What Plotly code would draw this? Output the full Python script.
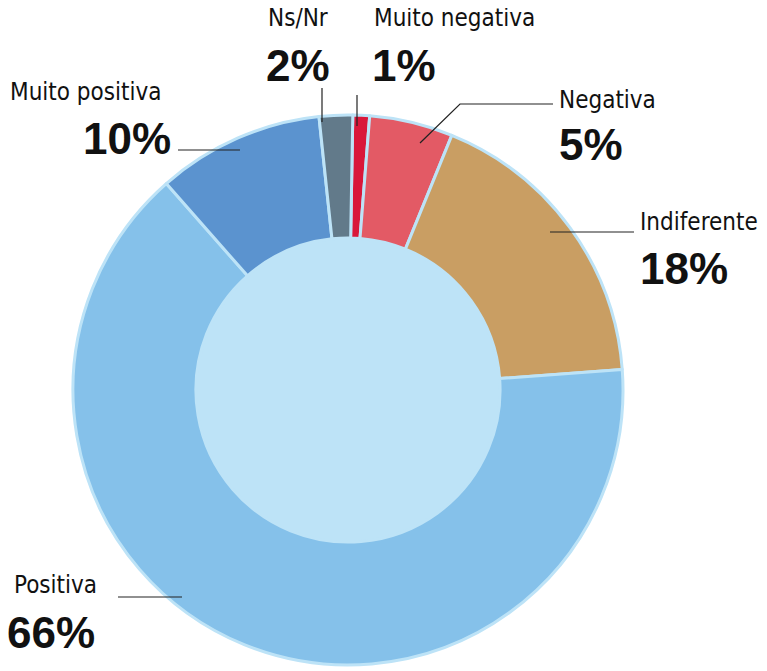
import plotly.graph_objects as go

labels = ["Muito negativa", "Negativa", "Indiferente", "Positiva", "Muito positiva", "Ns/Nr"]
values = [1, 5, 18, 66, 10, 2]
pct_text = ["1%", "5%", "18%", "66%", "10%", "2%"]
colors = ["#d9173a", "#e35a65", "#c99e63", "#85c1ea", "#5b93cf", "#627a8a"]

W, H = 767, 671
OX, OY = 8, 8  # page body offset compensation
def px(x): return (x - OX) / W
def py(y): return 1 - (y - OY) / H

FONT = "Liberation Sans Narrow, DejaVu Sans Condensed, Roboto, sans-serif"

fig = go.Figure(go.Pie(
    labels=labels, values=values, hole=0.553, sort=False, direction="clockwise",
    rotation=1, marker=dict(colors=colors, line=dict(color="#bde3f7", width=3)),
    textinfo="none", hoverinfo="label+value",
    domain=dict(x=[px(73), px(623)], y=[py(665), py(115)]),
))

fig.add_shape(type="circle", xref="paper", yref="paper", layer="below",
              x0=px(196), x1=px(500), y0=py(542), y1=py(238),
              fillcolor="#bde3f7", line=dict(width=0))

pos = {
    "Ns/Nr": (298, 18, 298, 65, "center"),
    "Muito negativa": (372, 18, 370, 65, "left"),
    "Negativa": (557, 100, 557, 145, "left"),
    "Indiferente": (638, 222, 638, 268, "left"),
    "Muito positiva": (8, 92, 173, 138, "right"),
    "Positiva": (12, 585, 5, 632, "left"),
}
for lab, pt in zip(labels, pct_text):
    nx, ny, tx, ty, anc = pos[lab]
    nanc = "left" if lab != "Ns/Nr" else "center"
    fig.add_annotation(x=px(nx), y=py(ny), xref="paper", yref="paper", text=lab,
                       showarrow=False, xanchor=nanc, yanchor="middle",
                       font=dict(family=FONT, size=24, color="#111"))
    fig.add_annotation(x=px(tx), y=py(ty), xref="paper", yref="paper", text="<b>%s</b>" % pt,
                       showarrow=False, xanchor=anc, yanchor="middle",
                       font=dict(family="Liberation Sans, Arial, sans-serif", size=44, color="#111"))

lines = [
    [(322, 88), (322, 122)],
    [(357, 95), (357, 126)],
    [(553, 104), (460, 104), (420, 143)],
    [(634, 232), (550, 232)],
    [(178, 150), (240, 150)],
    [(118, 597), (182, 597)],
]
for pts in lines:
    path = "M " + " L ".join("%f,%f" % (px(x), py(y)) for x, y in pts)
    fig.add_shape(type="path", path=path, xref="paper", yref="paper",
                  line=dict(color="#222", width=1.2))

fig.update_layout(width=W, height=H, margin=dict(l=0, r=0, t=0, b=0),
                  showlegend=False, paper_bgcolor="white", plot_bgcolor="white")
fig.write_html("out.html")
